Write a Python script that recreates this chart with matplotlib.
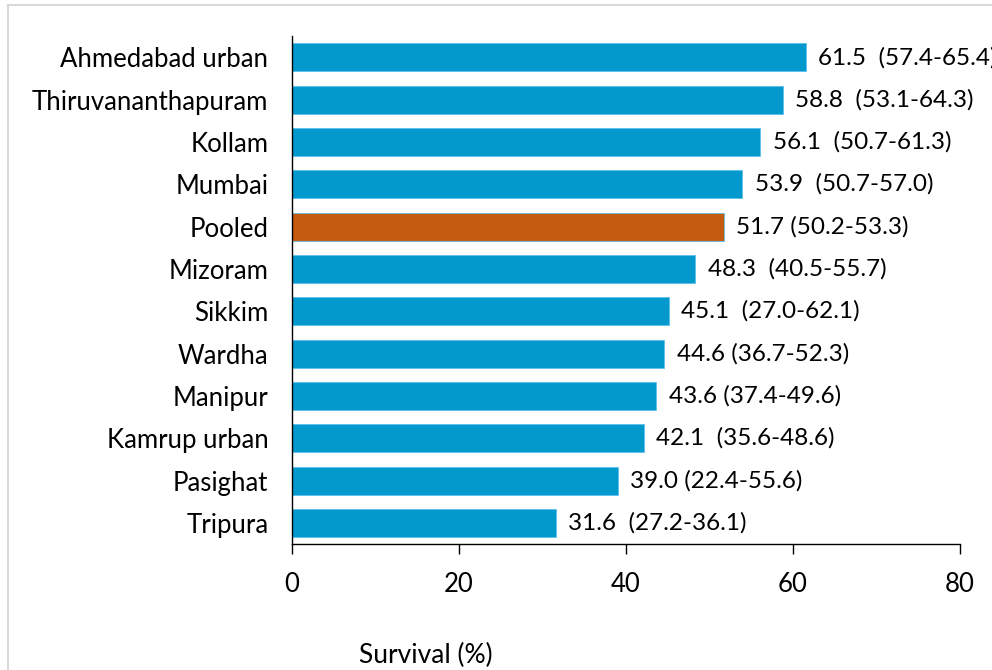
import matplotlib
matplotlib.use("Agg")
import matplotlib.pyplot as plt
from matplotlib.patches import Rectangle

# survival estimates with 95% CI, top to bottom
regions = ["Ahmedabad urban", "Thiruvananthapuram", "Kollam", "Mumbai", "Pooled",
           "Mizoram", "Sikkim", "Wardha", "Manipur", "Kamrup urban", "Pasighat", "Tripura"]
survival = [61.5, 58.8, 56.1, 53.9, 51.7, 48.3, 45.1, 44.6, 43.6, 42.1, 39.0, 31.6]
ci_text = ["61.5  (57.4-65.4)", "58.8  (53.1-64.3)", "56.1  (50.7-61.3)", "53.9  (50.7-57.0)",
           "51.7 (50.2-53.3)", "48.3  (40.5-55.7)", "45.1  (27.0-62.1)", "44.6 (36.7-52.3)",
           "43.6 (37.4-49.6)", "42.1  (35.6-48.6)", "39.0 (22.4-55.6)", "31.6  (27.2-36.1)"]
x_ticks = [0, 20, 40, 60, 80]

plt.rcParams['font.family'] = ['Lato', 'DejaVu Sans']

blue = '#0399CD'
orange = '#C55A11'
colors = [orange if r == "Pooled" else blue for r in regions]

fig = plt.figure(figsize=(9.92, 6.7), dpi=100)
ax = fig.add_axes([0.2944, 0.188, 0.6733, 0.758])

ypos = list(range(len(regions)))[::-1]
ax.barh(ypos, survival, height=0.66, color=colors, edgecolor='#5BC0EB', linewidth=0.6)
for y, v, t in zip(ypos, survival, ci_text):
    ax.text(v + 1.5, y, t, va='center', ha='left', fontsize=17.5, clip_on=False)

ax.set_yticks(ypos)
ax.set_yticklabels(regions, fontsize=18.5)
ax.set_xticks(x_ticks)
ax.set_xticklabels([str(t) for t in x_ticks], fontsize=18.5)
ax.set_xlim(0, 80)
ax.set_ylim(-0.5, len(regions) - 0.5)

ax.spines['top'].set_visible(False)
ax.spines['right'].set_visible(False)
ax.spines['left'].set_linewidth(1.0)
ax.spines['bottom'].set_linewidth(1.0)
ax.tick_params(axis='y', length=0, pad=17)
ax.tick_params(axis='x', direction='out', length=7, width=1.0, pad=13)

fig.text(426 / 992, 1 - 655 / 670, "Survival (%)", ha='center', va='center', fontsize=19)

# light frame around the chart area
fig.patches.append(Rectangle((8 / 992, -0.1), 1.2, 1 - 5 / 670 + 0.1, transform=fig.transFigure,
                             fill=False, edgecolor='#D9D9D9', linewidth=1.5))

fig.savefig("out.png", dpi=100)
